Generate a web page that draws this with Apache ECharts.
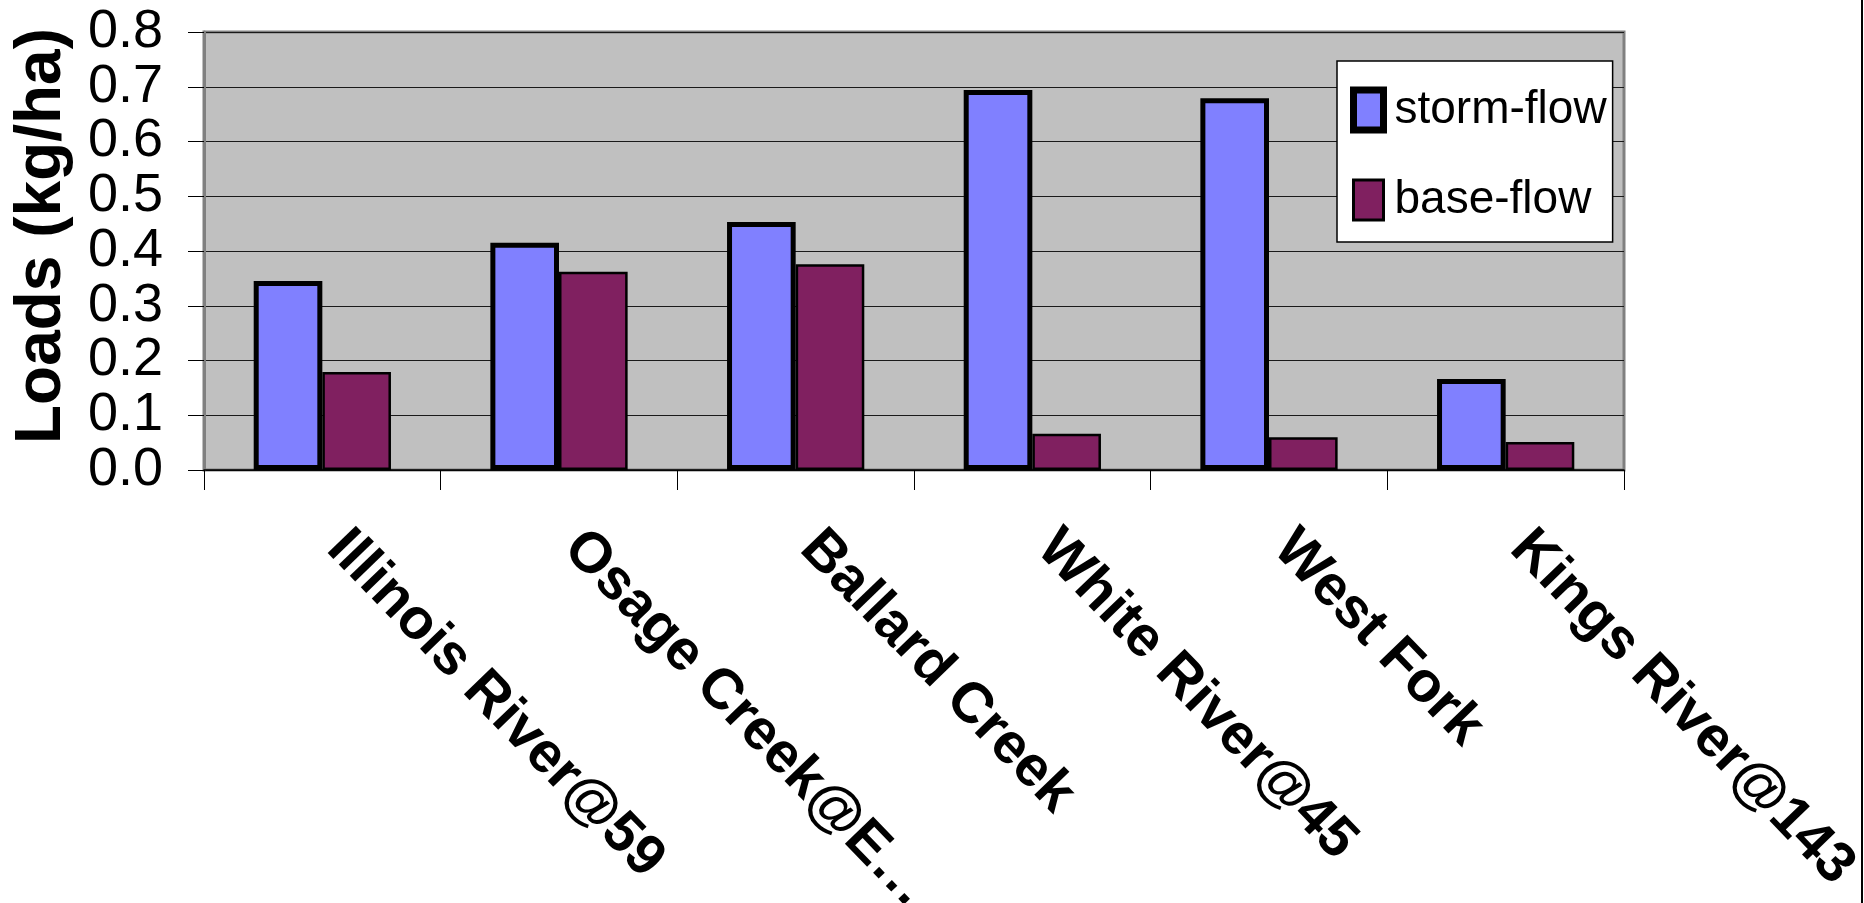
<!DOCTYPE html>
<html>
<head>
<meta charset="utf-8">
<script src="https://cdn.jsdelivr.net/npm/echarts@6/dist/echarts.min.js"></script>
<style>
html,body{margin:0;padding:0;background:#fff;}
#c{width:1864px;height:903px;}
</style>
</head>
<body>
<div id="c"></div>
<script>
const categories = ["Illinois River@59", "Osage Creek@E…", "Ballard Creek", "White River@45", "West Fork", "Kings River@143"];
const stormFlow = [0.345, 0.415, 0.453, 0.694, 0.679, 0.166];
const baseFlow = [0.179, 0.362, 0.376, 0.066, 0.060, 0.051];
const yTicks = { min: 0, max: 0.8, interval: 0.1 };
const yTitle = "Loads (kg/ha)";
const seriesNames = ["storm-flow", "base-flow"];

const FONT = "'Liberation Sans Narrow', 'Arial Narrow', 'Liberation Sans', Arial, sans-serif";
const chart = echarts.init(document.getElementById('c'), null, { renderer: 'canvas' });
chart.setOption({
  animation: false,
  backgroundColor: '#ffffff',
  grid: {
    left: 204, right: 240, top: 32, bottom: 433,
    outerBoundsMode: 'none',
    containLabel: false,
    show: true, backgroundColor: '#C0C0C0', borderColor: '#808080', borderWidth: 3
  },
  legend: {
    orient: 'vertical',
    left: 1337, top: 61,
    backgroundColor: '#ffffff',
    borderColor: '#000000', borderWidth: 1.5,
    padding: [19, 6, 12, 13],
    itemGap: 30,
    itemWidth: 30, itemHeight: 40,
    icon: 'rect',
    textStyle: { fontFamily: FONT, fontSize: 46, color: '#000', lineHeight: 60, padding: [0, 0, 0, 6] },
    data: [
      { name: seriesNames[0], itemStyle: { borderWidth: 7, borderColor: '#000' } },
      { name: seriesNames[1], itemStyle: { borderWidth: 3, borderColor: '#000' } }
    ]
  },
  xAxis: {
    type: 'category',
    data: categories,
    axisLine: { show: true, lineStyle: { color: '#000', width: 1.5 } },
    axisTick: { show: true, length: 20, lineStyle: { color: '#000', width: 1 } },
    axisLabel: {
      interval: 0, rotate: -46, margin: 55,
      align: 'left', verticalAlign: 'middle',
      padding: [0, 0, 38, 20],
      hideOverlap: false,
      fontFamily: FONT, fontWeight: 'bold', fontSize: 57, color: '#000'
    },
    splitLine: { show: false }
  },
  yAxis: {
    type: 'value',
    min: yTicks.min, max: yTicks.max, interval: yTicks.interval,
    name: yTitle,
    nameLocation: 'middle',
    nameRotate: 90,
    nameGap: 130,
    nameMoveOverlap: false,
    nameTextStyle: {
      fontFamily: "'Liberation Sans', Arial, sans-serif", fontWeight: 'bold', fontSize: 64, color: '#000',
      padding: [0, 0, 0, 30]
    },
    axisLine: { show: true, lineStyle: { color: '#808080', width: 3 } },
    axisTick: { show: true, length: 16, lineStyle: { color: '#000', width: 1 } },
    axisLabel: {
      margin: 41,
      showMinLabel: true, showMaxLabel: true, hideOverlap: false,
      formatter: v => v.toFixed(1),
      fontFamily: FONT, fontSize: 54, color: '#000'
    },
    splitLine: { show: true, lineStyle: { color: '#1a1a1a', width: 1 } }
  },
  series: [
    {
      name: seriesNames[0], type: 'bar', data: stormFlow,
      barGap: '0%', barCategoryGap: '42%',
      itemStyle: { color: '#8080FF', borderColor: '#000', borderWidth: 5 }
    },
    {
      name: seriesNames[1], type: 'bar', data: baseFlow,
      barGap: '0%', barCategoryGap: '42%',
      itemStyle: { color: '#802060', borderColor: '#000', borderWidth: 2.5 }
    }
  ],
  graphic: [
    { type: 'line', shape: { x1: 1862, y1: 0, x2: 1862, y2: 903 }, style: { stroke: '#000', lineWidth: 2 } }
  ]
});
</script>
</body>
</html>
